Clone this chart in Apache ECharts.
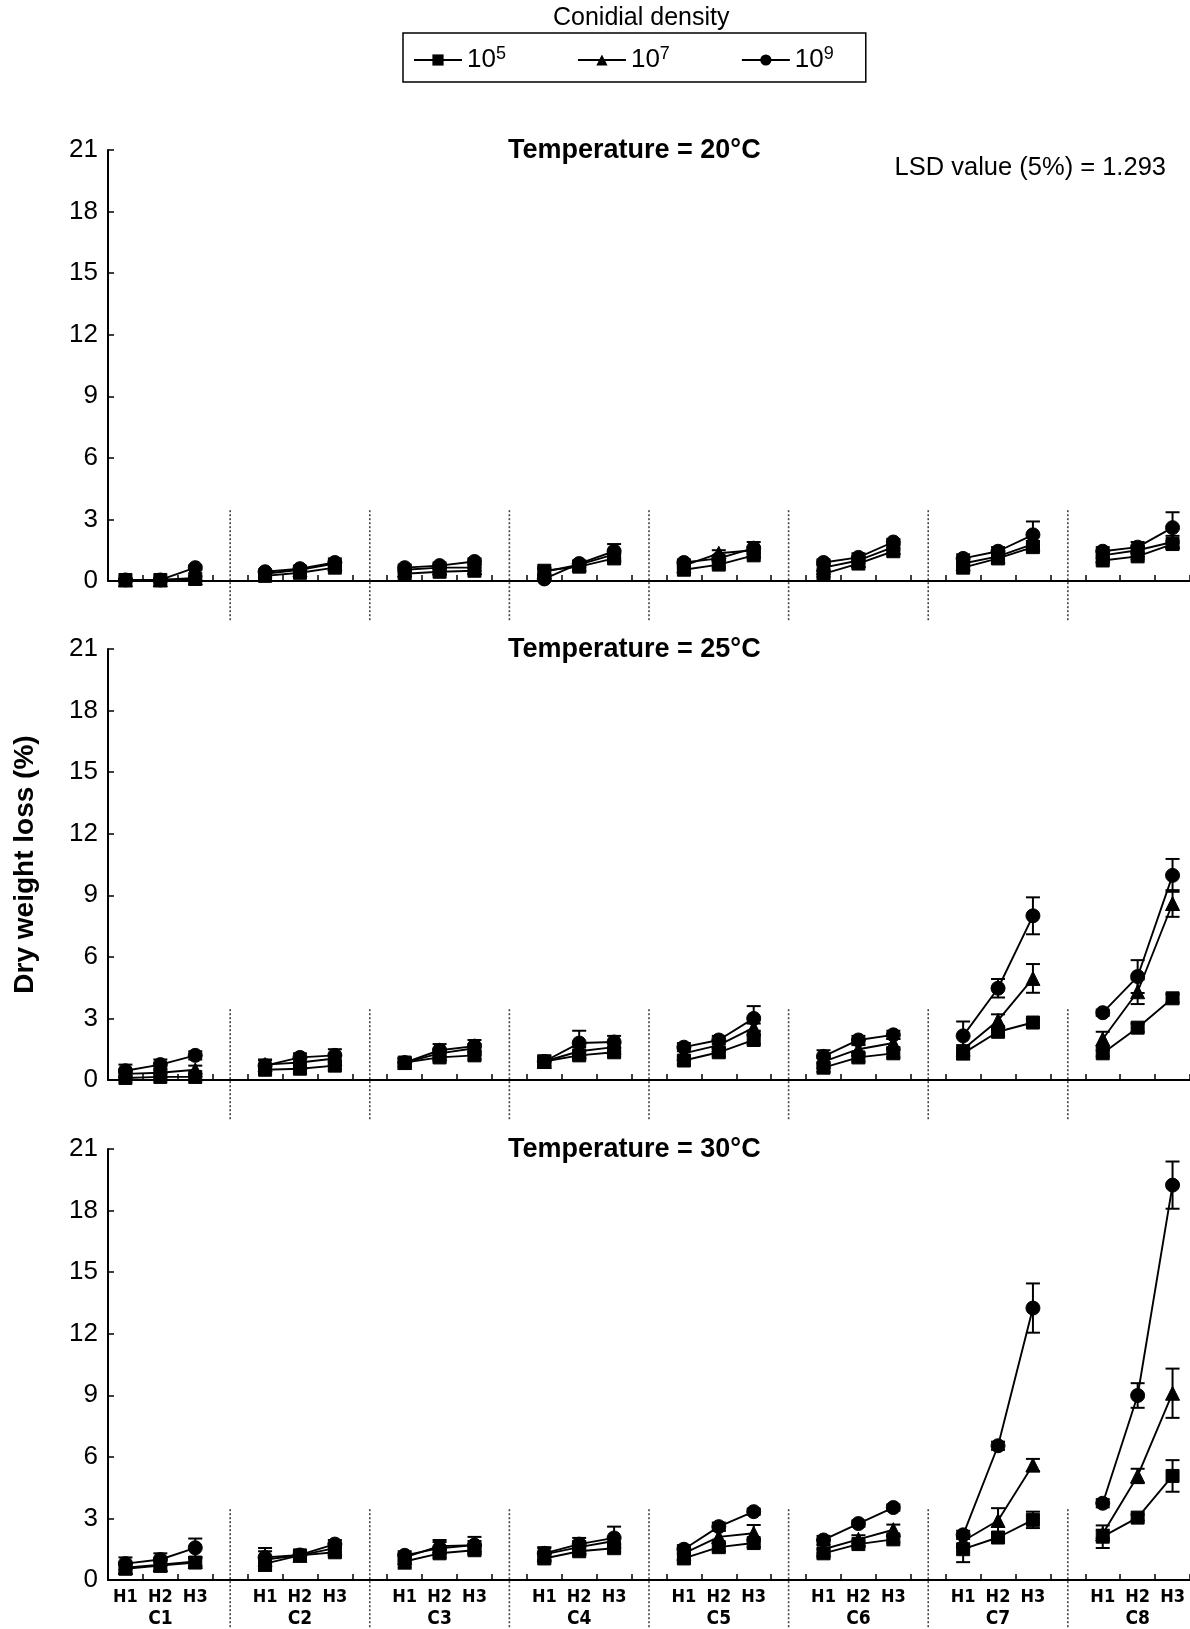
<!DOCTYPE html>
<html><head><meta charset="utf-8">
<script src="https://cdn.jsdelivr.net/npm/echarts@6/dist/echarts.min.js"></script>
<style>html,body{margin:0;padding:0;background:#fff}#c{width:1190px;height:1629px}</style>
</head><body><div id="c"></div>
<script>
// ---------- data ----------
const groups = ['C1','C2','C3','C4','C5','C6','C7','C8'];
const times = ['H1','H2','H3'];
const densities = ['10^5','10^7','10^9'];
const temps = ['Temperature = 20°C','Temperature = 25°C','Temperature = 30°C'];
const yTicks = [0,3,6,9,12,15,18,21];
const lsdText = 'LSD value (5%) = 1.293';
const yName = 'Dry weight loss (%)';
const legendTitle = 'Conidial density';

// values: C1H1,C1H2,C1H3, C2H1,... C8H3
const t20_d5 = [0.05,0.05,0.1, 0.25,0.4,0.65, 0.35,0.45,0.5, 0.5,0.7,1.1, 0.55,0.8,1.25, 0.35,0.85,1.45, 0.65,1.1,1.65, 1.0,1.2,1.8];
const t20_d7 = [0.05,0.05,0.15, 0.35,0.55,0.85, 0.55,0.65,0.65, 0.45,0.8,1.3, 0.75,1.35,1.5, 0.65,1.0,1.65, 0.85,1.2,1.8, 1.25,1.5,1.9];
const t20_d9 = [0.05,0.05,0.65, 0.45,0.6,0.9, 0.65,0.75,0.95, 0.1,0.85,1.45, 0.9,1.1,1.6, 0.9,1.15,1.9, 1.1,1.45,2.25, 1.45,1.65,2.6];
const t20_e5 = [0.05,0.05,0.1, 0.1,0.15,0.15, 0.15,0.15,0.15, 0.15,0.15,0.2, 0.15,0.15,0.15, 0.15,0.15,0.15, 0.15,0.15,0.15, 0.15,0.15,0.15];
const t20_e7 = [0.05,0.05,0.1, 0.1,0.15,0.15, 0.15,0.15,0.15, 0.15,0.15,0.2, 0.15,0.15,0.15, 0.15,0.15,0.15, 0.15,0.15,0.15, 0.15,0.15,0.3];
const t20_e9 = [0.05,0.05,0.1, 0.1,0.15,0.2, 0.15,0.15,0.15, 0.15,0.15,0.35, 0.15,0.15,0.3, 0.15,0.2,0.15, 0.2,0.2,0.65, 0.2,0.25,0.75];

const t25_d5 = [0.1,0.15,0.15, 0.5,0.55,0.7, 0.85,1.1,1.2, 0.9,1.2,1.35, 0.95,1.35,1.95, 0.6,1.1,1.3, 1.3,2.35,2.8, 1.3,2.55,3.98];
const t25_d7 = [0.3,0.35,0.5, 0.75,0.85,1.05, 0.85,1.3,1.55, 0.9,1.4,1.6, 1.3,1.7,2.55, 0.9,1.5,1.8, 1.5,2.9,4.95, 2.0,4.3,8.6];
const t25_d9 = [0.45,0.75,1.2, 0.7,1.1,1.2, 0.85,1.45,1.65, 0.9,1.8,1.85, 1.6,1.95,3.0, 1.15,1.95,2.2, 2.15,4.47,8.0, 3.28,5.04,9.97];
const t25_e5 = [0.1,0.15,0.15, 0.2,0.2,0.2, 0.2,0.2,0.2, 0.2,0.2,0.2, 0.2,0.2,0.2, 0.2,0.2,0.2, 0.3,0.2,0.15, 0.15,0.2,0.2];
const t25_e7 = [0.2,0.2,0.2, 0.2,0.2,0.2, 0.2,0.2,0.2, 0.2,0.2,0.2, 0.2,0.2,0.2, 0.2,0.2,0.2, 0.2,0.3,0.7, 0.35,0.6,0.65];
const t25_e9 = [0.3,0.25,0.2, 0.3,0.2,0.3, 0.2,0.3,0.3, 0.3,0.6,0.3, 0.2,0.2,0.6, 0.3,0.2,0.2, 0.7,0.45,0.9, 0.15,0.8,0.8];

const t30_d5 = [0.55,0.7,0.85, 0.8,1.2,1.35, 0.9,1.3,1.45, 1.05,1.4,1.55, 1.05,1.6,1.8, 1.3,1.75,1.98, 1.5,2.07,2.93, 2.11,3.04,5.07];
const t30_d7 = [0.6,0.75,0.9, 1.0,1.2,1.55, 1.1,1.65,1.7, 1.25,1.6,1.9, 1.3,2.1,2.28, 1.5,1.98,2.45, 1.9,2.9,5.6, 2.25,5.07,9.1];
const t30_d9 = [0.8,1.0,1.57, 1.1,1.22,1.75, 1.2,1.55,1.7, 1.3,1.75,2.05, 1.5,2.6,3.33, 1.95,2.75,3.53, 2.2,6.54,13.25, 3.74,8.99,19.24];
const t30_e5 = [0.25,0.3,0.2, 0.3,0.2,0.2, 0.35,0.2,0.2, 0.2,0.2,0.2, 0.2,0.2,0.2, 0.2,0.15,0.15, 0.63,0.2,0.4, 0.55,0.15,0.77];
const t30_e7 = [0.25,0.3,0.2, 0.56,0.2,0.2, 0.2,0.3,0.2, 0.3,0.3,0.2, 0.3,0.3,0.4, 0.2,0.2,0.25, 0.2,0.6,0.3, 0.2,0.35,1.2];
const t30_e9 = [0.3,0.3,0.45, 0.3,0.2,0.2, 0.2,0.3,0.4, 0.3,0.3,0.55, 0.2,0.2,0.15, 0.2,0.15,0.15, 0.2,0.2,1.2, 0.2,0.6,1.15];

// ---------- build ----------
const FONT = "'Liberation Sans', Arial, sans-serif";
const NARROW = "'Liberation Sans Narrow', 'Arial Narrow', 'DejaVu Sans Condensed', sans-serif";
const panels = [
  {vals:[t20_d5,t20_d7,t20_d9], errs:[t20_e5,t20_e7,t20_e9], title: temps[0]},
  {vals:[t25_d5,t25_d7,t25_d9], errs:[t25_e5,t25_e7,t25_e9], title: temps[1]},
  {vals:[t30_d5,t30_d7,t30_d9], errs:[t30_e5,t30_e7,t30_e9], title: temps[2]}
];
const nSlots = groups.length*4 - 1;
const cats = [];
for (let i=0;i<nSlots;i++) cats.push('s'+i);
const gaps = [];
for (let g=0; g<groups.length-1; g++) gaps.push(g*4+3);
const slotIndex = (k) => Math.floor(k/3)*4 + (k%3);

const gridTops = [150, 649, 1149];
const gridH = 431;
const symbols = ['rect','triangle','circle'];
const symSizes = [13, 14, 14];

const grids = [], xAxes = [], yAxes = [], series = [], graphics = [];
panels.forEach((p, pi) => {
  grids.push({left: 108, top: gridTops[pi], width: 1085, height: gridH, containLabel: false});
  const bottom = pi === panels.length-1;
  xAxes.push({
    type:'category', gridIndex: pi, data: cats, boundaryGap: true,
    axisLine:{show:true, lineStyle:{color:'#000', width:2}},
    axisTick:{show:true, inside:true, length:6, interval:0, lineStyle:{color:'#000', width:1.5}},
    axisLabel:{show: bottom, interval:0, margin:6,
      formatter: (v, idx) => {
        const s = idx % 4, g = Math.floor(idx/4);
        if (s === 3) return '';
        if (s === 1) return '{h|' + times[1] + '}\n{c|' + groups[g] + '}';
        return '{h|' + times[s] + '}';
      },
      rich:{
        h:{fontFamily: NARROW, fontWeight:'bold', fontSize:18, color:'#000', lineHeight:22},
        c:{fontFamily: NARROW, fontWeight:'bold', fontSize:19, color:'#000', lineHeight:22}
      }},
    splitLine:{show:false}
  });
  yAxes.push({
    type:'value', gridIndex: pi, min: yTicks[0], max: yTicks[yTicks.length-1], interval: yTicks[1]-yTicks[0],
    axisLine:{show:true, lineStyle:{color:'#000', width:2}},
    axisTick:{show:true, inside:true, length:6, lineStyle:{color:'#000', width:1.5}},
    axisLabel:{fontFamily: FONT, fontSize:26, color:'#000', margin:10},
    splitLine:{show:false},
    name: pi === 1 ? yName : '', nameLocation:'middle', nameGap: 69, nameRotate: 90,
    nameTextStyle:{fontFamily: FONT, fontWeight:'bold', fontSize:28, color:'#000'}
  });
  // dividers
  series.push({
    type:'custom', xAxisIndex: pi, yAxisIndex: pi, silent:true, clip:false, z:1,
    data: gaps.map(g => [g, 0]),
    renderItem: (params, api) => {
      const x = api.value(0);
      const top = api.coord([x, 3.45]);
      const zero = api.coord([x, 0]);
      const below = bottom ? 60 : 41;
      return {type:'line', shape:{x1:top[0], y1:top[1], x2:top[0], y2:zero[1]+below},
        style:{stroke:'#444', lineWidth:1.6, lineDash:[2,2]}};
    }
  });
  p.vals.forEach((vals, si) => {
    const data = new Array(nSlots).fill(null);
    vals.forEach((v, k) => { data[slotIndex(k)] = v; });
    series.push({
      type:'line', name: densities[si], xAxisIndex: pi, yAxisIndex: pi,
      data, connectNulls:false, symbol: symbols[si], symbolSize: symSizes[si],
      showAllSymbol:true, animation:false,
      lineStyle:{color:'#000', width:1.9}, itemStyle:{color:'#000', borderColor:'#000'},
      z:3
    });
    const errData = vals.map((v, k) => [slotIndex(k), Math.max(0, v - p.errs[si][k]), v + p.errs[si][k]]);
    series.push({
      type:'custom', name:'err'+pi+'_'+si, xAxisIndex: pi, yAxisIndex: pi, silent:true, clip:false, z:2,
      data: errData,
      renderItem: (params, api) => {
        const x = api.value(0);
        const lo = api.coord([x, api.value(1)]), hi = api.coord([x, api.value(2)]);
        const w = 7, st = {stroke:'#000', lineWidth:2};
        return {type:'group', children:[
          {type:'line', shape:{x1:hi[0], y1:hi[1], x2:lo[0], y2:lo[1]}, style: st},
          {type:'line', shape:{x1:hi[0]-w, y1:hi[1], x2:hi[0]+w, y2:hi[1]}, style: st},
          {type:'line', shape:{x1:lo[0]-w, y1:lo[1], x2:lo[0]+w, y2:lo[1]}, style: st}
        ]};
      }
    });
  });
  graphics.push({type:'text', left: 508, top: gridTops[pi]-13,
    style:{text: p.title, fill:'#000', font: "bold 27px " + FONT}});
});
graphics.push({type:'text', right: 24, top: 155, style:{text: lsdText, fill:'#000', font: "25.5px " + FONT}});
graphics.push({type:'text', left: 553, top: 6, style:{text: legendTitle, fill:'#000', font: "25px " + FONT}});

const chart = echarts.init(document.getElementById('c'), null, {renderer:'canvas'});
chart.setOption({
  animation:false,
  backgroundColor:'#fff',
  grid: grids, xAxis: xAxes, yAxis: yAxes, series,
  legend:{
    data: densities, left: 403, top: 33, orient:'horizontal',
    itemWidth: 48, itemHeight: 14, itemGap: 71,
    padding:[12, 32, 9, 10], borderColor:'#000', borderWidth:1.5,
    formatter: (name) => { const parts = name.split('^'); return '{b|' + parts[0] + '}{s|' + parts[1] + '}'; },
    textStyle:{fontFamily: FONT, fontSize:26, color:'#000',
      rich:{ b:{fontFamily: FONT, fontSize:26, color:'#000', lineHeight:30},
             s:{fontFamily: FONT, fontSize:18, color:'#000', verticalAlign:'top', lineHeight:16} }}
  },
  graphic: graphics
});
</script></body></html>
